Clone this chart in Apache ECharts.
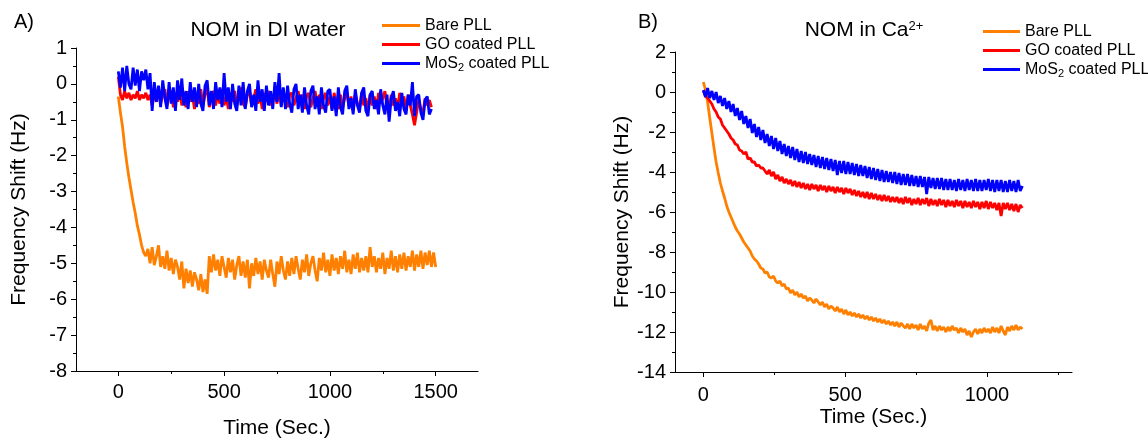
<!DOCTYPE html>
<html>
<head>
<meta charset="utf-8">
<script src="https://cdn.jsdelivr.net/npm/echarts@6/dist/echarts.min.js"></script>
<style>
html, body { margin: 0; padding: 0; background: #fff; }
#chart { width: 1148px; height: 438px; }
</style>
</head>
<body>
<div id="chart"></div>
<script>
// Panel A: NOM in DI water (read every 10 s)
const timeA = [0, 10, 20, 30, 40, 50, 60, 70, 80, 90, 100, 110, 120, 130, 140, 150, 160, 170, 180, 190,
    200, 210, 220, 230, 240, 250, 260, 270, 280, 290, 300, 310, 320, 330, 340, 350, 360, 370, 380, 390,
    400, 410, 420, 430, 440, 450, 460, 470, 480, 490, 500, 510, 520, 530, 540, 550, 560, 570, 580, 590,
    600, 610, 620, 630, 640, 650, 660, 670, 680, 690, 700, 710, 720, 730, 740, 750, 760, 770, 780, 790,
    800, 810, 820, 830, 840, 850, 860, 870, 880, 890, 900, 910, 920, 930, 940, 950, 960, 970, 980, 990,
    1000, 1010, 1020, 1030, 1040, 1050, 1060, 1070, 1080, 1090, 1100, 1110, 1120, 1130, 1140, 1150, 1160, 1170, 1180, 1190,
    1200, 1210, 1220, 1230, 1240, 1250, 1260, 1270, 1280, 1290, 1300, 1310, 1320, 1330, 1340, 1350, 1360, 1370, 1380, 1390,
    1400, 1410, 1420, 1430, 1440, 1450, 1460, 1470, 1480, 1490, 1500];
const bareA = [-0.35, -0.8, -1.2, -1.75, -2.2, -2.6, -2.95, -3.3, -3.6, -3.95, -4.2, -4.5, -4.7, -4.8,
    -4.6, -5.0, -4.55, -5.05, -4.8, -4.5, -5.1, -4.8, -5.15, -4.65,
    -5.2, -4.85, -5.3, -4.9, -5.1, -5.45, -4.95, -5.7, -5.15, -5.55,
    -5.2, -5.65, -5.25, -5.45, -5.75, -5.3, -5.8, -5.45, -5.85,
    -4.8, -5.25, -4.75, -5.2, -4.9, -5.35, -4.8, -5.1, -5.4,
    -4.85, -5.25, -4.9, -5.45, -5.05, -4.8, -5.35, -4.95, -5.4, -4.9,
    -5.7, -5.0, -5.35, -4.85, -5.3, -4.95, -5.45, -4.9, -5.2, -5.4,
    -4.9, -5.3, -5.65, -4.95, -5.3, -4.8, -5.2, -5.45, -4.95, -5.35,
    -4.85, -5.3, -4.8, -5.15, -5.45, -4.9, -5.25, -4.75, -5.35, -5.0,
    -4.8, -5.2, -5.5, -4.85, -5.2, -4.7, -5.25, -4.9, -5.35, -4.75,
    -5.2, -4.85, -5.3, -4.8, -5.15, -4.65, -5.25, -4.9, -5.3, -4.75,
    -5.15, -4.7, -5.25, -4.85, -5.2, -4.8, -5.25, -4.55, -5.1, -4.8,
    -5.25, -4.85, -5.15, -4.7, -5.3, -4.85, -5.15, -4.65, -5.2, -4.8,
    -5.25, -4.75, -5.15, -4.7, -5.2, -4.8, -5.1, -4.65, -5.2, -4.75,
    -5.1, -4.65, -5.15, -4.7, -5.05, -4.65, -5.1, -4.7, -5.1];
const goA = [0.2, -0.3, -0.45, -0.2, -0.4, -0.25, -0.45, -0.3, -0.4, -0.2,
    -0.45, -0.3, -0.4, -0.25, -0.45, -0.3, -0.6, -0.25, -0.5, -0.2,
    -0.55, -0.3, -0.15, -0.6, -0.35, -0.2, -0.65, -0.3, -0.5, -0.15,
    -0.6, -0.35, -0.65, -0.2, -0.5, -0.3, -0.7, -0.25, -0.55, -0.15,
    -0.6, -0.3, -0.1, -0.65, -0.35, -0.2, -0.6, -0.3, -0.55, -0.15,
    -0.6, -0.35, -0.7, -0.25, -0.5, -0.2, -0.6, -0.35, -0.1, -0.55,
    -0.65, -0.3, -0.2, -0.6, -0.4, -0.15, -0.55, -0.3, -0.7, -0.25,
    -0.5, -0.2, -0.6, -0.35, -0.25, -0.55, -0.15, -0.6, -0.3, -0.5,
    -0.65, -0.3, -0.25, -0.6, -0.4, -0.2, -0.55, -0.3, -0.7, -0.35,
    -0.25, -0.65, -0.4, -0.2, -0.6, -0.3, -0.7, -0.4, -0.25, -0.6,
    -0.35, -0.7, -0.25, -0.55, -0.7, -0.3, -0.65, -0.4, -0.25, -0.6,
    -0.35, -0.75, -0.3, -0.55, -0.7, -0.25, -0.6, -0.4, -0.75, -0.3,
    -0.6, -0.35, -0.7, -0.25, -0.55, -0.4, -0.2, -0.65, -0.75, -0.3,
    -0.6, -0.4, -0.7, -0.25, -0.55, -0.35, -0.75, -0.3, -0.6, -0.85,
    -1.15, -0.8, -0.45, -0.7, -0.8, -0.4, -0.6, -0.45, -0.65];
const mosA = [0.35, -0.1, 0.45, -0.2, 0.5, 0.0, -0.15, 0.45, -0.05, 0.4,
    -0.2, 0.35, 0.1, 0.4, -0.15, 0.3, -0.75, 0.05, -0.5, -0.05,
    -0.65, 0.1, -0.4, -0.7, 0.05, -0.55, -0.1, -0.75, 0.1, -0.45,
    0.15, -0.6, -0.2, -0.7, 0.05, -0.5, -0.1, -0.65, 0.0, -0.55,
    -0.75, -0.05, 0.1, -0.6, -0.2, -0.7, 0.05, -0.45, -0.1, -0.65,
    0.3, -0.5, -0.1, -0.7, 0.0, -0.55, -0.75, -0.05, -0.6, 0.05,
    -0.7, -0.2, 0.0, -0.65, -0.3, -0.75, 0.1, -0.5, -0.15, -0.75,
    -0.05, -0.6, -0.2, -0.7, 0.05, -0.5, 0.3, -0.65, -0.1, -0.7,
    -0.05, -0.55, -0.8, -0.15, 0.0, -0.7, -0.3, -0.8, -0.1, -0.6,
    -0.85, -0.2, -0.05, -0.7, -0.35, -0.85, -0.1, -0.6, -0.8, -0.2,
    -0.15, -0.75, -0.35, -0.9, -0.1, -0.65, -0.85, -0.2, -0.05, -0.7,
    -0.4, -0.85, -0.15, -0.6, -0.8, -0.25, -0.1, -0.75, -0.9, -0.3,
    -0.2, -0.7, -0.45, -0.85, -0.15, -0.6, -0.85, -0.3, -1.05, -0.4,
    -0.2, -0.75, -0.5, -0.9, -0.25, -0.7, -0.85, -0.3, -0.6, 0.05,
    -0.9, -0.35, -0.3, -0.8, -1.0, -0.45, -0.35, -0.85, -0.7];

// Panel B: NOM in Ca2+ (read every 7.5 s)
const timeB = [0, 7.5, 15, 22.5, 30, 37.5, 45, 52.5, 60, 67.5, 75, 82.5, 90, 97.5, 105, 112.5, 120, 127.5, 135, 142.5,
    150, 157.5, 165, 172.5, 180, 187.5, 195, 202.5, 210, 217.5, 225, 232.5, 240, 247.5, 255, 262.5, 270, 277.5, 285, 292.5,
    300, 307.5, 315, 322.5, 330, 337.5, 345, 352.5, 360, 367.5, 375, 382.5, 390, 397.5, 405, 412.5, 420, 427.5, 435, 442.5,
    450, 457.5, 465, 472.5, 480, 487.5, 495, 502.5, 510, 517.5, 525, 532.5, 540, 547.5, 555, 562.5, 570, 577.5, 585, 592.5,
    600, 607.5, 615, 622.5, 630, 637.5, 645, 652.5, 660, 667.5, 675, 682.5, 690, 697.5, 705, 712.5, 720, 727.5, 735, 742.5,
    750, 757.5, 765, 772.5, 780, 787.5, 795, 802.5, 810, 817.5, 825, 832.5, 840, 847.5, 855, 862.5, 870, 877.5, 885, 892.5,
    900, 907.5, 915, 922.5, 930, 937.5, 945, 952.5, 960, 967.5, 975, 982.5, 990, 997.5, 1005, 1012.5, 1020, 1027.5, 1035, 1042.5,
    1050, 1057.5, 1065, 1072.5, 1080, 1087.5, 1095, 1102.5, 1110, 1117.5, 1125];
const bareB = [0.5, 0.1, -0.5, -1.3, -2.05, -2.8, -3.5, -4.05, -4.55, -4.95,
    -5.3, -5.7, -6.0, -6.25, -6.5, -6.75, -6.95, -7.1, -7.3, -7.5,
    -7.65, -7.8, -7.95, -8.2, -8.35, -8.45, -8.6, -8.8, -8.85, -9.05,
    -9.0, -9.25, -9.3, -9.2, -9.45, -9.55, -9.45, -9.7, -9.6, -9.85,
    -9.8, -10.05, -9.9, -10.15, -10.0, -10.25, -10.1, -10.3, -10.2, -10.45,
    -10.3, -10.4, -10.55, -10.35, -10.5, -10.65, -10.5, -10.75, -10.6, -10.85,
    -10.7, -10.8, -10.95, -10.75, -11.0, -10.85, -11.1, -10.9, -11.15, -11.0,
    -11.2, -11.05, -11.25, -11.1, -11.3, -11.15, -11.35, -11.2, -11.4, -11.25,
    -11.45, -11.3, -11.5, -11.35, -11.55, -11.4, -11.6, -11.45, -11.65, -11.5,
    -11.7, -11.5, -11.75, -11.55, -11.7, -11.8, -11.6, -11.85, -11.6, -11.8,
    -11.65, -11.9, -11.6, -11.85, -11.7, -11.95, -11.55, -11.4, -11.9, -11.7,
    -11.95, -11.7, -11.9, -11.75, -12.0, -11.75, -11.95, -11.7, -11.9, -11.8,
    -12.05, -11.8, -12.0, -11.85, -12.15, -11.95, -12.25, -12.0, -11.85, -12.1,
    -11.85, -12.05, -11.8, -12.0, -11.85, -12.05, -11.75, -12.0, -11.8, -12.05,
    -11.7, -11.95, -12.15, -11.75, -11.95, -11.7, -11.9, -11.65, -11.9, -11.75,
    -11.85];
const goB = [0.05, -0.2, -0.3, -0.45, -0.6, -0.85, -1.0, -1.25, -1.35, -1.65,
    -1.8, -1.95, -2.1, -2.3, -2.4, -2.6, -2.65, -2.9, -2.95, -3.1,
    -3.0, -3.35, -3.3, -3.5, -3.5, -3.7, -3.65, -3.8, -3.8, -3.95,
    -4.1, -3.9, -4.2, -4.0, -4.35, -4.15, -4.45, -4.25, -4.55, -4.35,
    -4.6, -4.4, -4.7, -4.45, -4.75, -4.5, -4.8, -4.55, -4.85, -4.6,
    -4.9, -4.6, -4.85, -4.65, -4.95, -4.65, -4.9, -4.7, -5.0, -4.7,
    -4.95, -4.75, -5.05, -4.75, -5.0, -4.8, -5.1, -4.8, -5.05, -4.85,
    -5.15, -4.9, -5.2, -4.95, -5.25, -5.0, -5.3, -5.0, -5.35, -5.05,
    -5.35, -5.1, -5.4, -5.15, -5.45, -5.15, -5.45, -5.2, -5.5, -5.25,
    -5.5, -5.25, -5.55, -5.3, -5.6, -5.25, -5.55, -5.3, -5.65, -5.35,
    -5.6, -5.3, -5.65, -5.35, -5.6, -5.3, -5.7, -5.35, -5.65, -5.4,
    -5.7, -5.35, -5.65, -5.4, -5.75, -5.4, -5.7, -5.45, -5.75, -5.4,
    -5.7, -5.45, -5.8, -5.45, -5.75, -5.5, -5.8, -5.45, -5.75, -5.5,
    -5.85, -5.5, -5.8, -5.45, -5.85, -5.5, -5.8, -5.55, -5.9, -5.55,
    -6.2, -5.55, -5.85, -5.55, -5.9, -5.6, -5.95, -5.6, -6.0, -5.65,
    -5.8];
const mosB = [0.1, -0.25, 0.2, -0.3, 0.05, -0.4, 0.0, -0.55, -0.2, -0.7,
    -0.3, -0.85, -0.45, -1.0, -0.6, -1.2, -0.8, -1.4, -0.95, -1.6,
    -1.2, -1.8, -1.35, -2.05, -1.6, -2.25, -1.75, -2.4, -1.9, -2.55,
    -2.1, -2.7, -2.2, -2.85, -2.3, -2.95, -2.45, -3.1, -2.6, -3.2,
    -2.7, -3.3, -2.75, -3.4, -2.85, -3.5, -2.95, -3.55, -3.0, -3.6,
    -3.1, -3.65, -3.15, -3.75, -3.2, -3.8, -3.25, -3.85, -3.3, -3.9,
    -3.35, -3.95, -3.4, -4.15, -3.45, -4.05, -3.45, -4.1, -3.5, -4.1,
    -3.55, -4.15, -3.6, -4.2, -3.65, -4.2, -3.7, -4.3, -3.75, -4.35,
    -3.8, -4.4, -3.85, -4.45, -3.9, -4.5, -3.95, -4.5, -4.0, -4.55,
    -4.0, -4.6, -4.05, -4.65, -4.1, -4.65, -4.1, -4.7, -4.15, -4.7,
    -4.2, -4.75, -4.2, -4.75, -4.25, -5.1, -4.25, -4.8, -4.3, -4.85,
    -4.3, -4.85, -4.3, -4.9, -4.35, -4.9, -4.35, -4.9, -4.4, -4.95,
    -4.35, -4.9, -4.4, -4.95, -4.35, -4.9, -4.4, -4.95, -4.35, -4.95,
    -4.4, -4.95, -4.4, -4.9, -4.35, -4.95, -4.4, -5.0, -4.4, -4.95,
    -4.4, -5.0, -4.45, -5.0, -4.4, -4.95, -4.45, -5.0, -4.4, -4.95,
    -4.7];

const names = ["Bare PLL", "GO coated PLL", "MoS2 coated PLL"];
const colors = ["#ff8000", "#ff0000", "#0000ff"];
const xTicksA = [0, 500, 1000, 1500];
const xMinorA = [250, 750, 1250];
const xTicksB = [0, 500, 1000];
const xMinorB = [250, 750, 1250];

const font = "Liberation Sans, Arial, sans-serif";

function pairs(times, values) {
    return values.map(function (v, i) { return [times[i], v]; });
}

function mainX(gridIndex, min, max, ticks, nameGap, margin) {
    return {
        type: "value", gridIndex: gridIndex, min: min, max: max,
        name: "Time (Sec.)", nameLocation: "middle", nameGap: nameGap, nameMoveOverlap: false,
        nameTextStyle: { fontSize: 21, color: "#000", fontFamily: font },
        axisLine: { show: true, onZero: false, lineStyle: { color: "#000", width: 1 } },
        axisTick: { show: true, length: 5, customValues: ticks, lineStyle: { color: "#000" } },
        axisLabel: {
            customValues: ticks, fontSize: 20, color: "#000", margin: margin, fontFamily: font,
            formatter: function (v) { return String(v); },
        },
        splitLine: { show: false },
    };
}

function minorX(gridIndex, min, max, ticks) {
    return {
        type: "value", gridIndex: gridIndex, min: min, max: max, position: "bottom",
        axisLine: { show: false, onZero: false },
        axisTick: { show: true, length: 3, customValues: ticks, lineStyle: { color: "#000" } },
        axisLabel: { show: false },
        splitLine: { show: false },
    };
}

function yAx(gridIndex, min, max, interval, nameGap) {
    return {
        type: "value", gridIndex: gridIndex, min: min, max: max, interval: interval,
        name: "Frequency Shift (Hz)", nameLocation: "middle", nameGap: nameGap,
        nameTextStyle: { fontSize: 21, color: "#000", fontFamily: font },
        axisLine: { show: true, onZero: false, lineStyle: { color: "#000", width: 1 } },
        axisTick: { show: true, length: 5, lineStyle: { color: "#000" } },
        minorTick: { show: true, splitNumber: 2, length: 3, lineStyle: { color: "#000" } },
        axisLabel: { fontSize: 20, color: "#000", margin: 9, fontFamily: font },
        splitLine: { show: false },
        minorSplitLine: { show: false },
    };
}

function line(name, color, xi, yi, data) {
    return {
        name: name, type: "line", xAxisIndex: xi, yAxisIndex: yi,
        data: data, showSymbol: false, symbol: "none", color: color,
        lineStyle: { width: 2.8, color: color },
    };
}

function legendAt(left, top, width) {
    return {
        data: names, orient: "vertical", left: left, top: top,
        icon: "rect", itemWidth: width, itemHeight: 3, itemGap: 0,
        textStyle: {
            fontSize: 16, color: "#000", fontFamily: font, lineHeight: 19,
            rich: { sub: { fontSize: 11, lineHeight: 12, verticalAlign: "bottom", color: "#000", fontFamily: font } },
        },
        formatter: function (name) {
            return name === "MoS2 coated PLL" ? "MoS{sub|2} coated PLL" : name;
        },
    };
}

let dom = document.getElementById("chart");
let myChart = echarts.init(dom, null, { renderer: "canvas" });

let option = {
    animation: false,
    backgroundColor: "#fff",
    grid: [
        { left: 76, top: 48, width: 402, height: 323, outerBoundsMode: "none", containLabel: false },
        { left: 675, top: 52, width: 397, height: 320, outerBoundsMode: "none", containLabel: false },
    ],
    xAxis: [
        mainX(0, -200, 1700, xTicksA, 47, 11),
        minorX(0, -200, 1700, xMinorA),
        mainX(1, -100, 1300, xTicksB, 35, 13),
        minorX(1, -100, 1300, xMinorB),
    ],
    yAxis: [
        yAx(0, -8, 1, 1, 46),
        yAx(1, -14, 2, 2, 41),
    ],
    legend: [legendAt(377, 11, 38), legendAt(978, 17, 37)],
    graphic: [
        { type: "text", x: 14, y: 22, style: { text: "A)", fontSize: 20, fontFamily: font, fill: "#000", verticalAlign: "middle" } },
        { type: "text", x: 268, y: 30, style: { text: "NOM in DI water", fontSize: 21, fontFamily: font, fill: "#000", align: "center", verticalAlign: "middle" } },
        { type: "text", x: 638, y: 22, style: { text: "B)", fontSize: 20, fontFamily: font, fill: "#000", verticalAlign: "middle" } },
        {
            type: "text", x: 864, y: 30,
            style: {
                text: "NOM in Ca{sup|2+}", fontSize: 21, fontFamily: font, fill: "#000", align: "center", verticalAlign: "middle",
                rich: { sup: { fontSize: 13, lineHeight: 12, verticalAlign: "top", fontFamily: font, fill: "#000" } },
            },
        },
    ],
    series: [
        line(names[0], colors[0], 0, 0, pairs(timeA, bareA)),
        line(names[1], colors[1], 0, 0, pairs(timeA, goA)),
        line(names[2], colors[2], 0, 0, pairs(timeA, mosA)),
        line(names[0], colors[0], 2, 1, pairs(timeB, bareB)),
        line(names[1], colors[1], 2, 1, pairs(timeB, goB)),
        line(names[2], colors[2], 2, 1, pairs(timeB, mosB)),
    ],
};

if (option && typeof option === "object") {
    myChart.setOption(option);
}

window.addEventListener("resize", myChart.resize);
</script>
</body>
</html>
